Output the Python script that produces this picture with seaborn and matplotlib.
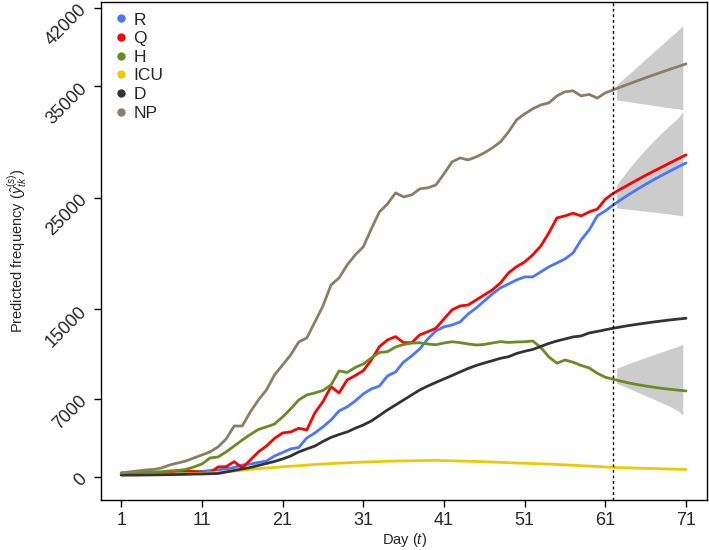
import numpy as np
import pandas as pd
import matplotlib
matplotlib.use("Agg")
import matplotlib.pyplot as plt
from matplotlib.lines import Line2D
import seaborn as sns

sns.set_style("ticks")
plt.rcParams['font.family'] = ['Liberation Sans', 'DejaVu Sans']
plt.rcParams['mathtext.fontset'] = 'custom'
plt.rcParams['mathtext.it'] = 'Liberation Sans:italic'
plt.rcParams['mathtext.rm'] = 'Liberation Sans'

# --- dados (dias 1..71, previsão a partir do dia 62) ---
days = list(range(1, 72))

R = [180, 180, 190, 220, 270, 270, 310, 360, 400, 450,
     490, 580, 630, 720, 850, 1070, 1160, 1300, 1430, 1880,
     2190, 2510, 2640, 3490, 3940, 4480, 5100, 5910, 6270, 6800,
     7430, 7880, 8140, 9040, 9400, 10290, 10830, 11460, 12350, 13070,
     13430, 13600, 13870, 14590, 15130, 15750, 16380, 16920, 17270, 17630,
     17900, 17900, 18350, 18800, 19150, 19510, 20050, 21210, 22110, 23360,
     23810, 24350, 24840, 25310, 25760, 26190, 26600, 26990, 27370, 27740, 28100]

Q = [200, 220, 250, 270, 300, 320, 400, 560, 540, 490,
     450, 360, 900, 920, 1370, 810, 1520, 2240, 2770, 3450,
     3940, 4030, 4360, 4210, 5730, 6740, 8080, 7520, 8680, 9070,
     9510, 10470, 11660, 12260, 12560, 12020, 12020, 12710, 13000, 13310,
     14140, 14950, 15300, 15390, 15840, 16290, 16740, 17360, 18260, 18820,
     19240, 19870, 20670, 21840, 23180, 23360, 23600, 23360, 23720, 23960,
     24850, 25390, 25800, 26200, 26600, 26990, 27360, 27730, 28100, 28460, 28820]

H = [360, 380, 400, 430, 450, 470, 540, 580, 670, 900,
     1160, 1700, 1790, 2240, 2770, 3310, 3800, 4250, 4480, 4740,
     5370, 6090, 6890, 7340, 7520, 7740, 8230, 9490, 9350, 9800,
     10110, 10650, 11140, 11210, 11630, 11860, 11980, 12010, 11900, 11830,
     11990, 12100, 12020, 11900, 11810, 11860, 11990, 12110, 12040, 12080,
     12100, 12170, 11590, 10740, 10180, 10470, 10270, 9980, 9760, 9280,
     8920, 8740, 8560, 8400, 8260, 8140, 8030, 7930, 7850, 7770, 7700]

ICU = [180, 185, 195, 205, 220, 235, 250, 270, 290, 310,
       340, 370, 400, 460, 540, 610, 680, 740, 800, 850,
       910, 960, 1010, 1060, 1120, 1160, 1200, 1240, 1270, 1300,
       1330, 1360, 1380, 1410, 1430, 1440, 1450, 1460, 1480, 1490,
       1460, 1450, 1430, 1410, 1390, 1370, 1340, 1310, 1280, 1250,
       1230, 1200, 1180, 1150, 1120, 1080, 1050, 1010, 970, 940,
       900, 850, 830, 810, 790, 770, 750, 730, 710, 690, 670]

D = [180, 180, 180, 180, 190, 200, 210, 220, 240, 260,
     270, 290, 310, 450, 580, 720, 850, 1030, 1210, 1390,
     1610, 1880, 2240, 2510, 2770, 3180, 3540, 3800, 4030, 4360,
     4650, 5010, 5500, 6000, 6440, 6890, 7340, 7790, 8140, 8460,
     8770, 9080, 9400, 9710, 9980, 10200, 10400, 10620, 10760, 11050,
     11250, 11410, 11680, 11950, 12170, 12350, 12530, 12620, 12890, 13020,
     13170, 13310, 13440, 13560, 13670, 13770, 13870, 13960, 14050, 14130, 14200]

NP = [358, 450, 540, 630, 670, 805, 1070, 1250, 1430, 1700,
      1970, 2240, 2690, 3400, 4560, 4560, 5820, 6890, 7790, 9130,
      10020, 10920, 12080, 12440, 13870, 15300, 17180, 17810, 18970, 19870,
      20590, 22200, 23720, 24430, 25420, 25060, 25240, 25780, 25870, 26130,
      27120, 28190, 28550, 28370, 28640, 29000, 29450, 29980, 30880, 31950,
      32490, 32940, 33290, 33470, 34100, 34460, 34550, 34100, 34230, 33900,
      34370, 34640, 34920, 35190, 35460, 35720, 35980, 36230, 36480, 36720, 36960]

# faixas de previsão (intervalos)
band_days = [62.4, 63, 64, 65, 66, 67, 68, 69, 70, 70.6]
np_lo = [33740, 33680, 33570, 33460, 33360, 33250, 33140, 33030, 32930, 32850]
np_hi = [35080, 35470, 36110, 36750, 37400, 38040, 38690, 39330, 39970, 40360]
r_lo = [24080, 24020, 23940, 23860, 23780, 23700, 23610, 23520, 23430, 23360]
r_hi = [26130, 26700, 27650, 28520, 29330, 30090, 30800, 31480, 32120, 32690]
h_lo = [8390, 8200, 7900, 7580, 7270, 6960, 6640, 6310, 5930, 5550]
h_hi = [9730, 9900, 10180, 10440, 10700, 10950, 11200, 11440, 11680, 11880]

series = ['R', 'Q', 'H', 'ICU', 'D', 'NP']
cores = ['#4876FF', '#FF0000', '#698B22', '#EEC900', '#333333', '#8B7E66']
forecast_start = 62

df = pd.DataFrame({'Day': days, 'R': R, 'Q': Q, 'H': H, 'ICU': ICU, 'D': D, 'NP': NP})
df_long = df.melt(id_vars='Day', var_name='Serie', value_name='Valor')

fig = plt.figure(figsize=(7.09, 5.5), dpi=100)
ax = fig.add_axes([0.1425, 0.0909, 0.8547, 0.9055])

for lo, hi in [(np_lo, np_hi), (r_lo, r_hi), (h_lo, h_hi)]:
    ax.fill_between(band_days, lo, hi, color='#CCCCCC', linewidth=0, zorder=1)

sns.lineplot(data=df_long, x='Day', y='Valor', hue='Serie', hue_order=series,
             palette=cores, linewidth=2, legend=False, ax=ax, zorder=3)

ax.axvline(forecast_start, color='black', linestyle=(0, (2, 2)), linewidth=1, zorder=4)

ax.set_xlim(-1.5, 73.6)
ax.set_ylim(-2060, 42500)
ax.set_xticks(range(1, 72, 10))
ax.set_yticks([0, 7000, 15000, 25000, 35000, 42000])
ax.tick_params(axis='both', labelsize=13, length=5, width=1, color='black', direction='out')
ax.tick_params(axis='y', pad=7)
for lab in ax.get_yticklabels():
    lab.set_rotation(45)
    lab.set_ha('right')
    lab.set_va('center')
    lab.set_rotation_mode('anchor')

for s in ax.spines.values():
    s.set_visible(True)
    s.set_color('black')
    s.set_linewidth(1)

ax.set_xlabel('Day ($t$)', fontsize=10.5, va='center')
ax.xaxis.set_label_coords(0.5, -0.08)
ax.set_ylabel(r'Predicted frequency ($\hat{y}_{tk}^{(s)}$)', fontsize=10.5, labelpad=10)

handles = [Line2D([], [], marker='o', linestyle='none', color=c, markersize=5) for c in cores]
ax.legend(handles, series, loc='upper left', frameon=False, fontsize=12.5,
          handletextpad=0.15, labelspacing=0.2, borderaxespad=0.2, handlelength=1.1)

fig.savefig('out.png', dpi=100)
